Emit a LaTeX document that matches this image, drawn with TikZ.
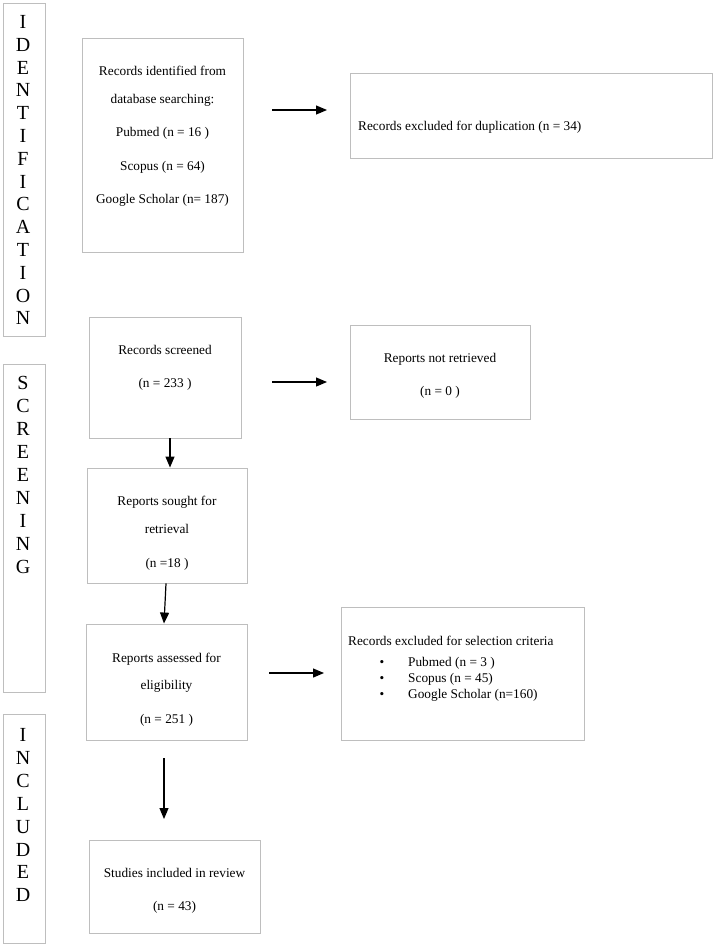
\documentclass[tikz,border=0pt]{standalone}
\usepackage{fontspec}
\setmainfont{Liberation Serif}
\usetikzlibrary{arrows.meta}
\definecolor{boxgray}{RGB}{190,190,190}
\begin{document}
\begin{tikzpicture}[x=1pt,y=-1pt,
  box/.style={draw=boxgray, line width=0.9pt, rectangle, inner sep=0pt},
  txt/.style={font=\fontsize{13.3}{16}\selectfont, anchor=base, inner sep=0pt},
  ltxt/.style={txt, anchor=base west},
  arr/.style={-{Triangle[length=11pt,width=9pt]}, line width=1.2pt, black},
  letter/.style={font=\fontsize{20}{24}\selectfont, anchor=center, inner sep=0pt}]
\useasboundingbox[fill=white] (0,0) rectangle (714,946);

% side bars
\node[box, minimum width=42pt, minimum height=333pt] (s1) at (24,169.5) {};
\node[box, minimum width=42pt, minimum height=328pt] (s2) at (24,528) {};
\node[box, minimum width=42pt, minimum height=229pt] (s3) at (24,828.5) {};
\foreach \l [count=\i from 0] in {I,D,E,N,T,I,F,I,C,A,T,I,O,N}
  \node[letter] (id\i) at (23,{22+22.8*\i}) {\l};
\foreach \l [count=\i from 0] in {S,C,R,E,E,N,I,N,G}
  \node[letter] (sc\i) at (23,{383+23*\i}) {\l};
\foreach \l [count=\i from 0] in {I,N,C,L,U,D,E,D}
  \node[letter] (in\i) at (23,{735+22.9*\i}) {\l};

% boxes
\node[box, minimum width=161pt, minimum height=214pt] (b1) at (162.5,145) {};
\node[box, minimum width=362pt, minimum height=85pt] (b2) at (531,115.5) {};
\node[box, minimum width=152pt, minimum height=121pt] (b3) at (165,377.5) {};
\node[box, minimum width=180pt, minimum height=94pt] (b4) at (440,372) {};
\node[box, minimum width=160pt, minimum height=115pt] (b5) at (167,525.5) {};
\node[box, minimum width=161pt, minimum height=116pt] (b6) at (166.5,682) {};
\node[box, minimum width=243pt, minimum height=133pt] (b7) at (462.5,673.5) {};
\node[box, minimum width=171pt, minimum height=93pt] (b8) at (174.5,886.5) {};

% texts
\node[txt] (t1a) at (162.5,75) {Records identified from};
\node[txt] (t1b) at (162.5,103) {database searching:};
\node[txt] (t1c) at (162.5,136) {Pubmed (n = 16 )};
\node[txt] (t1d) at (162.5,170) {Scopus (n = 64)};
\node[txt] (t1e) at (162.5,203) {Google Scholar (n= 187)};

\node[ltxt] (t2) at (358,130) {Records excluded for duplication (n = 34)};

\node[txt] (t3a) at (165,354) {Records screened};
\node[txt] (t3b) at (165,387) {(n = 233 )};

\node[txt] (t4a) at (440,362) {Reports not retrieved};
\node[txt] (t4b) at (440,395) {(n = 0 )};

\node[txt] (t5a) at (167,505) {Reports sought for};
\node[txt] (t5b) at (167,533) {retrieval};
\node[txt] (t5c) at (167,567) {(n =18 )};

\node[txt] (t6a) at (166.5,662) {Reports assessed for};
\node[txt] (t6b) at (166.5,689) {eligibility};
\node[txt] (t6c) at (166.5,723) {(n = 251 )};

\node[ltxt] (t7) at (348,645) {Records excluded for selection criteria};
\node[txt] (u1) at (382,666) {\textbullet};
\node[txt] (u2) at (382,682) {\textbullet};
\node[txt] (u3) at (382,698) {\textbullet};
\node[ltxt] (t7a) at (408,666) {Pubmed (n = 3 )};
\node[ltxt] (t7b) at (408,682) {Scopus (n = 45)};
\node[ltxt] (t7c) at (408,698) {Google Scholar (n=160)};

\node[txt] (t8a) at (174.5,877) {Studies included in review};
\node[txt] (t8b) at (174.5,910) {(n = 43)};

% arrows
\coordinate (a1s) at (272,110);
\coordinate (a1e) at (327,110);
\coordinate (a2s) at (272,382);
\coordinate (a2e) at (327,382);
\coordinate (a3s) at (269,673);
\coordinate (a3e) at (324,673);
\coordinate (a4s) at (164,758);
\coordinate (a4e) at (164,819);
\draw[arr] (a1s) -- (a1e);
\draw[arr] (a2s) -- (a2e);
\draw[arr] (a3s) -- (a3e);
\draw[arr] ([xshift=5pt]b3.south) -- ([xshift=3pt]b5.north);
\draw[arr] ([xshift=-1pt]b5.south) -- ([xshift=-2.5pt]b6.north);
\draw[arr] (a4s) -- (a4e);
\end{tikzpicture}
\end{document}
